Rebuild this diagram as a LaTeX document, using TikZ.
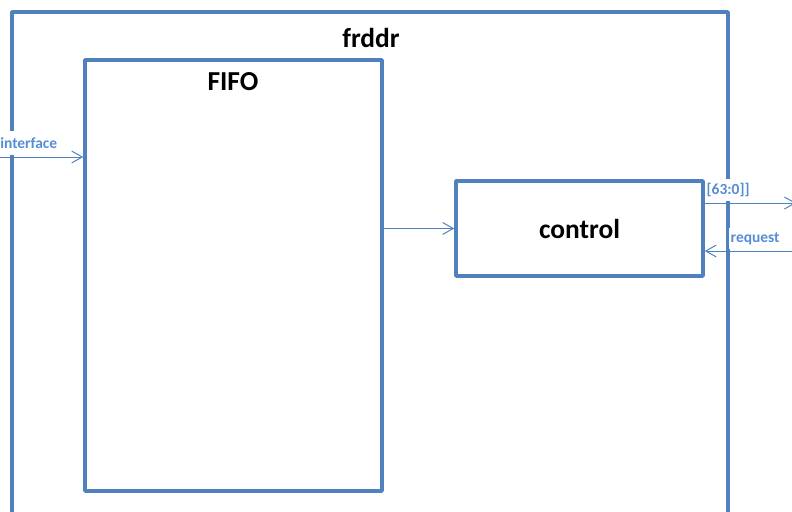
\documentclass[tikz,border=0pt]{standalone}
\usepackage{fontspec}
\setmainfont{Carlito}
\usetikzlibrary{arrows.meta}
\definecolor{boxblue}{HTML}{4F81BD}
\definecolor{txtblue}{HTML}{558ED5}
\tikzset{
  blk/.style={draw=boxblue, line width=2.5pt, line join=round, inner sep=0pt},
  sig/.style={draw=boxblue, line width=0.7pt, -{Straight Barb[length=7.5pt,width=8.5pt]}},
  bigtxt/.style={font=\fontsize{19.5}{23}\selectfont\bfseries, inner sep=0pt},
  pintxt/.style={font=\fontsize{11}{13}\selectfont\bfseries, text=txtblue, fill=white, inner xsep=1pt, inner ysep=3pt, anchor=south west}
}
\begin{document}
\begin{tikzpicture}[x=0.025cm,y=-0.025cm]
  \useasboundingbox (0,0) rectangle (792,512);
  \clip (0,0) rectangle (792,512);
  % outer block
  \draw[blk] (12,12) rectangle (728,540);
  \node[bigtxt] (frddr) at (371,38) {frddr};
  % inner blocks
  \node[blk, minimum width=7.425cm, minimum height=10.775cm] (fifo) at (233.5,275.5) {};
  \node[bigtxt] (fifolbl) at (233,82) {FIFO};
  \node[blk, minimum width=6.175cm, minimum height=2.375cm, font=\fontsize{19.5}{23}\selectfont\bfseries] (ctrl) at (579.5,228.5) {control};
  % ports
  \coordinate (ifin) at (0,157);
  \coordinate (dout) at (796,203);
  \coordinate (reqin) at (796,251);
  \node[pintxt, inner xsep=0pt, minimum height=0.6cm] (iflbl) at (0,155) {interface};
  \node[pintxt] (doutlbl) at (705,201) {[63:0]]};
  \node[pintxt] (reqlbl) at (729,249) {request};
  \draw[sig] (ifin) -- (fifo.west |- ifin);
  \draw[sig] (fifo.east |- ctrl) -- (ctrl.west);
  \draw[sig] (ctrl.east |- dout) -- (dout);
  \draw[sig] (reqin) -- (ctrl.east |- reqin);
\end{tikzpicture}
\end{document}
